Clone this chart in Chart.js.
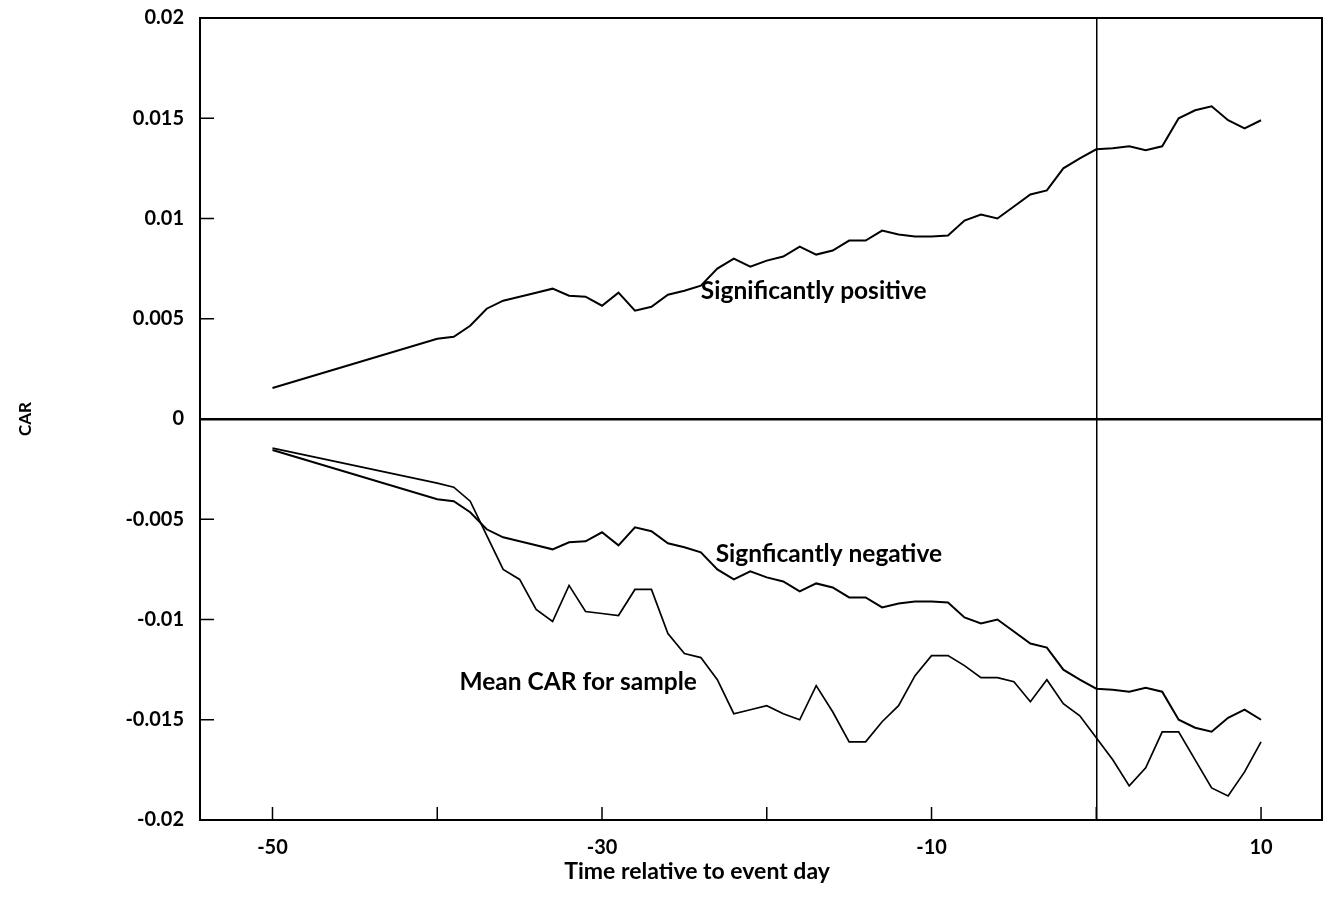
<!DOCTYPE html>
<html>
<head>
<meta charset="utf-8">
<script src="https://cdn.jsdelivr.net/npm/chart.js@4.4.0/dist/chart.umd.min.js"></script>
<style>
  html, body { margin: 0; padding: 0; background: #fff; }
  #wrap { width: 1330px; height: 918px; }
</style>
</head>
<body>
<div id="wrap"><canvas id="myChart"></canvas></div>
<script>
// event days (first point is day -50, then daily from -40)
const days = [-50, -40, -39, -38, -37, -36, -35, -34, -33, -32, -31, -30, -29, -28, -27, -26, -25, -24, -23, -22, -21, -20, -19, -18, -17, -16, -15, -14, -13, -12, -11, -10, -9, -8, -7, -6, -5, -4, -3, -2, -1, 0, 1, 2, 3, 4, 5, 6, 7, 8, 9, 10];

const posCar = [0.00155, 0.0040, 0.0041, 0.00465, 0.0055, 0.0059, 0.0061, 0.0063, 0.0065, 0.00615, 0.0061, 0.00565, 0.0063, 0.0054, 0.0056, 0.0062, 0.0064, 0.00665, 0.0075, 0.0080, 0.0076, 0.0079, 0.0081, 0.0086, 0.0082, 0.0084, 0.0089, 0.0089, 0.0094, 0.0092, 0.0091, 0.0091, 0.00915, 0.0099, 0.0102, 0.0100, 0.0106, 0.0112, 0.0114, 0.0125, 0.0130, 0.01345, 0.0135, 0.0136, 0.0134, 0.0136, 0.0150, 0.0154, 0.0156, 0.0149, 0.0145, 0.0149];

const negCar = [-0.00155, -0.0040, -0.0041, -0.00465, -0.0055, -0.0059, -0.0061, -0.0063, -0.0065, -0.00615, -0.0061, -0.00565, -0.0063, -0.0054, -0.0056, -0.0062, -0.0064, -0.00665, -0.0075, -0.0080, -0.0076, -0.0079, -0.0081, -0.0086, -0.0082, -0.0084, -0.0089, -0.0089, -0.0094, -0.0092, -0.0091, -0.0091, -0.00915, -0.0099, -0.0102, -0.0100, -0.0106, -0.0112, -0.0114, -0.0125, -0.0130, -0.01345, -0.0135, -0.0136, -0.0134, -0.0136, -0.0150, -0.0154, -0.0156, -0.0149, -0.0145, -0.0150];

const meanCar = [-0.00145, -0.0032, -0.0034, -0.0041, -0.0058, -0.0075, -0.0080, -0.0095, -0.0101, -0.0083, -0.0096, -0.0097, -0.0098, -0.0085, -0.0085, -0.0107, -0.0117, -0.0119, -0.0130, -0.0147, -0.0145, -0.0143, -0.0147, -0.0150, -0.0133, -0.0146, -0.0161, -0.0161, -0.0151, -0.0143, -0.0128, -0.0118, -0.0118, -0.0123, -0.0129, -0.0129, -0.0131, -0.0141, -0.0130, -0.0142, -0.0148, -0.0159, -0.0170, -0.0183, -0.0174, -0.0156, -0.0156, -0.0170, -0.0184, -0.0188, -0.0176, -0.0161];

const xTicks = [-50, -40, -30, -20, -10, 0, 10];
const xTickLabels = ["-50", "", "-30", "", "-10", "", "10"];
const yTicks = [-0.02, -0.015, -0.01, -0.005, 0, 0.005, 0.01, 0.015, 0.02];
const yTickLabels = ["-0.02", "-0.015", "-0.01", "-0.005", "0", "0.005", "0.01", "0.015", "0.02"];

const noteTexts = ["Significantly positive", "Signficantly negative", "Mean CAR for sample"];
const noteDays = [-24.0, -23.1, -38.65];
const noteValues = [0.0064, -0.00675, -0.0131];

const xTitle = "Time relative to event day";

const FONT = "Lato";

function toPoints(ys) {
  return days.map((d, i) => ({ x: d, y: ys[i] }));
}

const frameAndTicks = {
  id: "frameAndTicks",
  afterDraw(chart) {
    const { ctx, chartArea: a, scales } = chart;
    ctx.save();
    ctx.strokeStyle = "#000";
    ctx.lineWidth = 2;
    ctx.strokeRect(a.left, a.top, a.right - a.left, a.bottom - a.top);
    ctx.lineWidth = 1.5;
    ctx.beginPath();
    scales.x.ticks.forEach((t) => {
      const px = scales.x.getPixelForValue(t.value);
      ctx.moveTo(px, a.bottom);
      ctx.lineTo(px, a.bottom - 13);
    });
    scales.y.ticks.forEach((t) => {
      const py = scales.y.getPixelForValue(t.value);
      ctx.moveTo(a.left, py);
      ctx.lineTo(a.left + 14, py);
    });
    ctx.stroke();

    // x axis title sits a bit left of the plot centre in the original
    ctx.fillStyle = "#000";
    ctx.font = "bold 23px " + FONT;
    ctx.textAlign = "center";
    ctx.textBaseline = "middle";
    ctx.fillText(xTitle, a.left + (a.right - a.left) * 0.443, a.bottom + 52);
    ctx.restore();
  },
};

const notes = {
  id: "notes",
  afterDatasetsDraw(chart) {
    const { ctx, scales } = chart;
    ctx.save();
    ctx.fillStyle = "#000";
    ctx.font = "bold 24.5px " + FONT;
    ctx.textAlign = "left";
    ctx.textBaseline = "middle";
    noteTexts.forEach((txt, i) => {
      ctx.fillText(txt, scales.x.getPixelForValue(noteDays[i]), scales.y.getPixelForValue(noteValues[i]));
    });
    ctx.restore();
  },
};

const lineStyle = {
  borderColor: "#000",
  borderWidth: 2,
  pointRadius: 0,
  tension: 0,
  fill: false,
};

new Chart(document.getElementById("myChart"), {
  type: "line",
  data: {
    datasets: [
      { label: "Significantly positive", data: toPoints(posCar), ...lineStyle },
      { label: "Signficantly negative", data: toPoints(negCar), ...lineStyle },
      { label: "Mean CAR for sample", data: toPoints(meanCar), ...lineStyle, borderWidth: 1.7 },
    ],
  },
  options: {
    responsive: true,
    maintainAspectRatio: false,
    animation: false,
    layout: { padding: { left: 0, right: 8, top: 18, bottom: 0 } },
    plugins: {
      legend: { display: false },
      tooltip: { enabled: false },
    },
    scales: {
      x: {
        type: "linear",
        min: -54.4,
        max: 13.7,
        afterBuildTicks: (scale) => {
          scale.ticks = xTicks.map((v) => ({ value: v }));
        },
        afterFit: (scale) => {
          scale.height = 98;
          scale.paddingLeft = 0;
          scale.paddingRight = 0;
        },
        ticks: {
          color: "#000",
          font: { family: FONT, size: 20, weight: "bold" },
          padding: 16,
          maxRotation: 0,
          autoSkip: false,
          callback: (v, i) => xTickLabels[i],
        },
        grid: {
          drawTicks: false,
          color: (c) => (c.tick && c.tick.value === 0 ? "#000" : "rgba(0,0,0,0)"),
          lineWidth: 1.5,
        },
        border: { display: false },
        title: { display: false },
      },
      y: {
        min: -0.02,
        max: 0.02,
        afterBuildTicks: (scale) => {
          scale.ticks = yTicks.map((v) => ({ value: v }));
        },
        afterFit: (scale) => {
          scale.width = 200;
          scale.paddingTop = 0;
          scale.paddingBottom = 0;
        },
        ticks: {
          color: "#000",
          font: { family: FONT, size: 20, weight: "bold" },
          padding: 16,
          autoSkip: false,
          callback: (v, i) => yTickLabels[i],
        },
        grid: {
          drawTicks: false,
          color: (c) => (c.tick && c.tick.value === 0 ? "#000" : "rgba(0,0,0,0)"),
          lineWidth: 2.5,
        },
        border: { display: false },
        title: {
          display: true,
          text: "CAR",
          color: "#000",
          font: { family: FONT, size: 17, weight: "bold" },
          padding: { top: 15, bottom: 0 },
        },
      },
    },
  },
  plugins: [frameAndTicks, notes],
});
</script>
</body>
</html>
